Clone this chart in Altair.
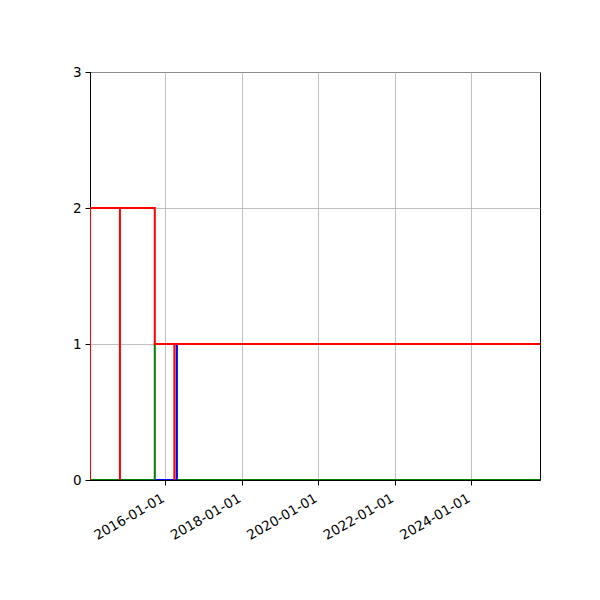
import altair as alt
import pandas as pd

# step series (date of change, value after change)
green_dates = ["2014-01-11", "2015-09-22", "2016-04-19", "2025-10-19"]
green_values = [0, 1, 0, 0]

blue_dates = ["2015-09-22", "2016-04-19", "2025-10-19"]
blue_values = [0, 1, 1]

red_a_dates = ["2014-01-11", "2014-01-11", "2015-09-22", "2025-10-19"]
red_a_values = [0, 2, 1, 1]

red_b_dates = ["2014-10-24", "2014-10-24", "2015-09-22"]
red_b_values = [0, 2, 2]

red_c_dates = ["2016-03-27", "2016-03-27", "2025-10-19"]
red_c_values = [0, 1, 1]

x_ticks = ["2016-01-01", "2018-01-01", "2020-01-01", "2022-01-01", "2024-01-01"]
y_ticks = [0, 1, 2, 3]
x_start, x_end = "2014-01-11", "2025-10-19"


def frame(name, dates, values):
    return pd.DataFrame({"series": name, "date": dates, "value": values,
                         "idx": list(range(len(dates)))})


def dt(s):
    y, m, d = map(int, s.split("-"))
    return alt.DateTime(year=y, month=m, date=d, utc=True)


xscale = alt.Scale(type="utc", domain=[dt(x_start), dt(x_end)], nice=False)
yscale = alt.Scale(domain=[0, 3], nice=False)

xaxis = alt.Axis(values=[dt(s) for s in x_ticks], format="%Y-%m-%d", title=None,
                 labelAngle=330, labelAlign="right", labelBaseline="top",
                 labelFontSize=13.5, labelFont="DejaVu Sans", labelColor="black",
                 tickColor="black", tickSize=5, labelPadding=6, labelOffset=-6,
                 domainColor="black", gridColor="#b0b0b0", gridWidth=0.8,
                 labelOverlap=False, labelFlush=False, domainWidth=1)
yaxis = alt.Axis(values=y_ticks, title=None, labelFontSize=13.5, labelFont="DejaVu Sans",
                 labelColor="black", tickColor="black", tickSize=5, labelPadding=4,
                 domainColor="black", gridColor="#b0b0b0", gridWidth=0.8, format="d",
                 domainWidth=1)


def layer(df, color):
    return alt.Chart(df).mark_line(interpolate="step-after", strokeWidth=2, color=color,
                                   clip=True).encode(
        x=alt.X("date:T", scale=xscale, axis=xaxis),
        y=alt.Y("value:Q", scale=yscale, axis=yaxis),
        detail="series:N",
        order="idx:Q",
    )


green = layer(frame("g", green_dates, green_values), "green")
blue = layer(frame("b", blue_dates, blue_values), "blue")
red = layer(pd.concat([frame("ra", red_a_dates, red_a_values),
                       frame("rb", red_b_dates, red_b_values),
                       frame("rc", red_c_dates, red_c_values)]), "red")

chart = alt.layer(green, blue, red).properties(
    width=450, height=408,
    background="white",
    autosize=alt.AutoSizeParams(type="none"),
    padding={"left": 82, "top": 64, "right": 30, "bottom": 100},
).configure_view(stroke="black", strokeWidth=1)

chart.save("out.html", embed_options={"renderer": "svg", "actions": False})
